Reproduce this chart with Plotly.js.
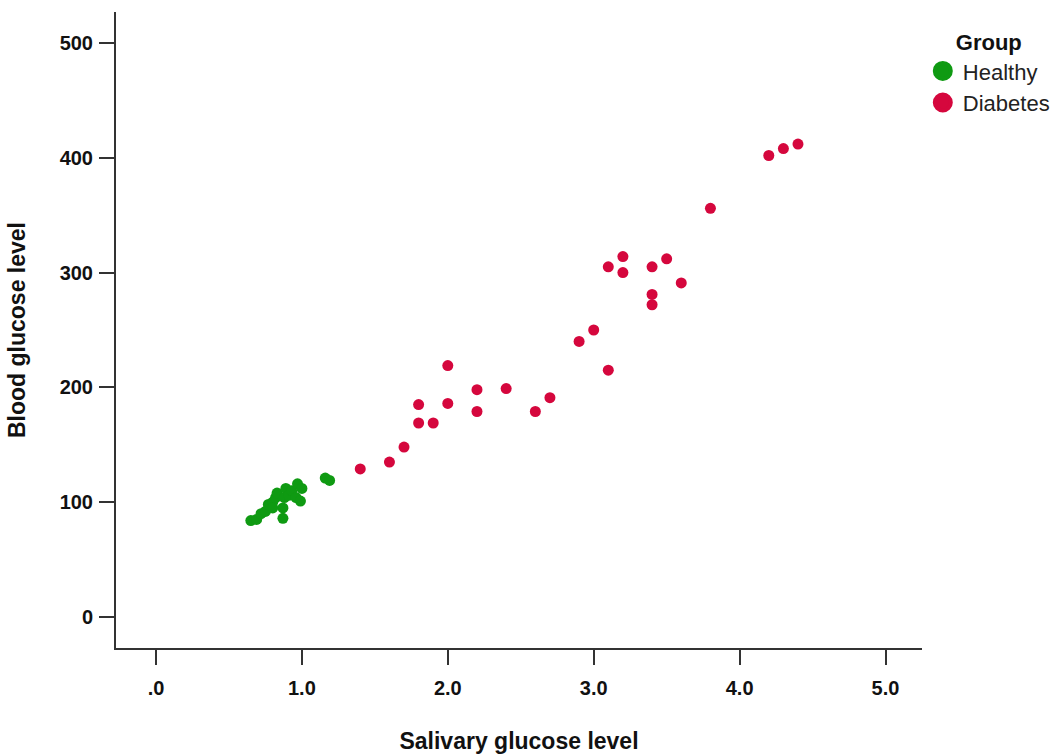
<!DOCTYPE html>
<html>
<head>
<meta charset="utf-8">
<script src="https://cdn.plot.ly/plotly-3.0.1.min.js"></script>
<style>html,body{margin:0;padding:0;background:#fff;}#chart{width:1050px;height:754px;}</style>
</head>
<body>
<div id="chart"></div>
<script>
var healthyX = [0.65, 0.69, 0.72, 0.75, 0.77, 0.80, 0.80, 0.82, 0.83, 0.87, 0.87, 0.88, 0.89, 0.91, 0.93, 0.96, 0.97, 0.99, 1.00, 1.16, 1.19];
var healthyY = [84, 85, 90, 92, 98, 100, 95, 104, 108, 86, 95, 104, 112, 106, 110, 104, 116, 101, 112, 121, 119];
var diabetesX = [1.4, 1.6, 1.7, 1.8, 1.8, 1.9, 2.0, 2.0, 2.2, 2.2, 2.4, 2.6, 2.7, 2.9, 3.0, 3.1, 3.1, 3.2, 3.2, 3.4, 3.4, 3.4, 3.5, 3.6, 3.8, 4.2, 4.3, 4.4];
var diabetesY = [129, 135, 148, 169, 185, 169, 186, 219, 198, 179, 199, 179, 191, 240, 250, 215, 305, 314, 300, 305, 281, 272, 312, 291, 356, 402, 408, 412];
var xTickVals = [0, 1, 2, 3, 4, 5];
var xTickText = ['.0', '1.0', '2.0', '3.0', '4.0', '5.0'];
var yTickVals = [0, 100, 200, 300, 400, 500];
var groupNames = ['Healthy', 'Diabetes'];

var green = '#0f9a12';
var red = '#d5073d';
var FONT = 'Liberation Sans, Arial, sans-serif';

var traces = [
  {x: healthyX, y: healthyY, name: groupNames[0], type: 'scatter', mode: 'markers',
   marker: {color: green, size: 11}, showlegend: false},
  {x: diabetesX, y: diabetesY, name: groupNames[1], type: 'scatter', mode: 'markers',
   marker: {color: red, size: 11}, showlegend: false},
  // legend entries (larger symbols, as in the reference legend)
  {x: [null], y: [null], name: groupNames[0], type: 'scatter', mode: 'markers', legendgroup: 'h',
   marker: {color: green, size: 16, line: {color: green, width: 4}}, showlegend: true},
  {x: [null], y: [null], name: groupNames[1], type: 'scatter', mode: 'markers', legendgroup: 'd',
   marker: {color: red, size: 16, line: {color: red, width: 4}}, showlegend: true}
];

var axisFont = {family: FONT, size: 23, color: '#111'};
var tickFont = {family: FONT, size: 20, color: '#111', weight: 'bold'};
var layout = {
  width: 1050, height: 754,
  paper_bgcolor: '#fff', plot_bgcolor: '#fff',
  margin: {l: 116, r: 128, t: 12, b: 106, autoexpand: false},
  showlegend: true,
  legend: {
    x: 1.001, y: 0.985, xanchor: 'left', yanchor: 'top',
    title: {text: '<b>Group</b>', side: 'top center', font: {family: FONT, size: 22, color: '#111'}},
    font: {family: FONT, size: 22, color: '#222'},
    itemsizing: 'trace', tracegroupgap: 0, itemwidth: 30,
    bgcolor: 'rgba(0,0,0,0)'
  },
  xaxis: {
    range: [-0.274, 5.25],
    tickvals: xTickVals, ticktext: xTickText,
    showgrid: false, zeroline: false,
    showline: true, linecolor: '#333', linewidth: 2,
    ticks: 'outside', ticklen: 15, tickwidth: 2, tickcolor: '#333',
    ticklabelstandoff: 6,
    tickfont: tickFont,
    title: {text: '<b>Salivary glucose level</b>', font: axisFont, standoff: 40}
  },
  yaxis: {
    range: [-27, 527],
    tickvals: yTickVals,
    showgrid: false, zeroline: false,
    showline: true, linecolor: '#333', linewidth: 2,
    ticks: 'outside', ticklen: 15, tickwidth: 2, tickcolor: '#333',
    ticklabelstandoff: 2,
    tickfont: tickFont,
    title: {text: '<b>Blood glucose level</b>', font: axisFont, standoff: 28}
  }
};

Plotly.newPlot('chart', traces, layout, {displayModeBar: false, staticPlot: true});
</script>
</body>
</html>
